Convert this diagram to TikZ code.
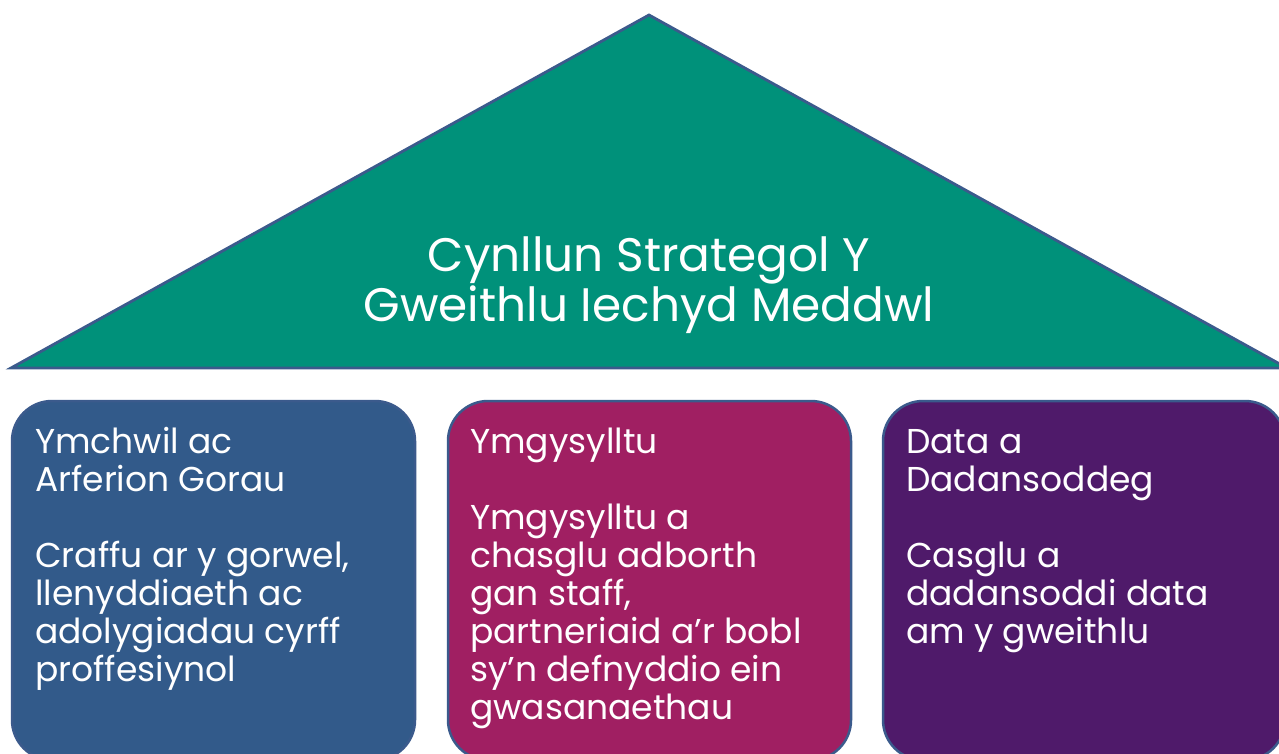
\documentclass[tikz,border=0pt]{standalone}
\usepackage{fontspec}
\setmainfont{Poppins}
\definecolor{roof}{HTML}{00917A}
\definecolor{edge}{HTML}{3B5A8C}
\definecolor{boxblue}{HTML}{325A8A}
\definecolor{boxmag}{HTML}{A01F62}
\definecolor{boxpur}{HTML}{4F1A6A}
\begin{document}
\begin{tikzpicture}[x=1pt,y=-1pt,
  pillar/.style={draw=edge,line width=2.5pt,rounded corners=40pt},
  boxtext/.style={anchor=base west,inner sep=0pt,align=left,text=white,
    font=\fontsize{34.5}{38}\selectfont},
  rooftext/.style={inner sep=0pt,align=center,text=white,
    font=\fontsize{47}{50}\selectfont}]
\useasboundingbox (0,0) rectangle (1279,753);
\clip (0,0) rectangle (1279,753);
\filldraw[fill=roof,draw=edge,line width=2.8pt,line join=miter] (11,368) -- (649,15) -- (1287,368) -- cycle;
\node[rooftext,anchor=base] (roof) at (649,321) {Cynllun Strategol Y\\Gweithlu Iechyd Meddwl};
\filldraw[pillar,fill=boxblue] (12,401) rectangle (415,760);
\filldraw[pillar,fill=boxmag] (448,401) rectangle (851,760);
\filldraw[pillar,fill=boxpur] (883,401) rectangle (1285,760);
\node[boxtext] (t1) at (35,681) {Ymchwil ac\\Arferion Gorau\\[38pt]Craffu ar y gorwel,\\llenyddiaeth ac\\adolygiadau cyrff\\proffesiynol};
\node[boxtext] (t2) at (470,719) {Ymgysylltu\\[38pt]Ymgysylltu a\\chasglu adborth\\gan staff,\\partneriaid a’r bobl\\sy’n defnyddio ein\\gwasanaethau};
\node[boxtext] (t3) at (906,643) {Data a\\Dadansoddeg\\[38pt]Casglu a\\dadansoddi data\\am y gweithlu};
\end{tikzpicture}
\end{document}
